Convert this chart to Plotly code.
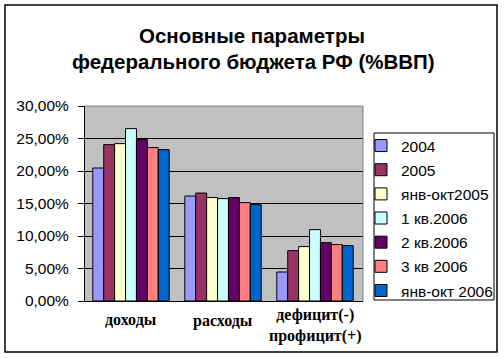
import plotly.graph_objects as go

categories = ["доходы", "расходы", "дефицит(-)<br>профицит(+)"]
series_names = ["2004", "2005", "янв-окт2005", "1 кв.2006", "2 кв.2006", "3 кв 2006", "янв-окт 2006"]
values = {
    "2004":         [0.2046, 0.1615, 0.0446],
    "2005":         [0.2406, 0.1661, 0.0775],
    "янв-окт2005":  [0.2421, 0.1591, 0.0837],
    "1 кв.2006":    [0.2652, 0.1575, 0.1098],
    "2 кв.2006":    [0.2483, 0.1591, 0.0898],
    "3 кв 2006":    [0.2360, 0.1513, 0.0868],
    "янв-окт 2006": [0.2329, 0.1483, 0.0852],
}
colors = ["#9999FF", "#993366", "#FFFFCC", "#CCFFFF", "#660066", "#FF8080", "#0066CC"]
title_lines = ["Основные параметры", "федерального бюджета РФ (%ВВП)"]

fig = go.Figure()
for i, name in enumerate(series_names):
    fig.add_trace(go.Bar(
        x=categories, y=values[name], name=name,
        marker=dict(color=colors[i], line=dict(color="black", width=1)),
        legendgroup=name,
    ))

W, H = 504, 358
L, R, T, B = 85, 141, 106, 57
pw, ph = W - L - R, H - T - B

def px_x(x):
    return (x - L) / pw

def px_y(y):
    return (H - B - y) / ph

fig.update_layout(
    width=W, height=H,
    margin=dict(l=L, r=R, t=T, b=B, pad=0, autoexpand=False),
    paper_bgcolor="white",
    plot_bgcolor="#C0C0C0",
    separators=", ",
    barmode="group",
    bargap=0.17,
    bargroupgap=0,
    font=dict(family="Arial, Liberation Sans, sans-serif", color="black"),
    showlegend=True,
    legend=dict(
        x=px_x(361), y=px_y(129), xanchor="left", yanchor="top",
        bgcolor="rgba(0,0,0,0)", borderwidth=0,
        font=dict(size=15.5, family="Arial, Liberation Sans, sans-serif"),
        tracegroupgap=1, itemwidth=30,
    ),
    xaxis=dict(
        showticklabels=False, ticks="", showline=True, linecolor="black", linewidth=1,
        showgrid=False,
    ),
    yaxis=dict(
        range=[0, 0.30], dtick=0.05, tickformat=".2%",
        showgrid=True, gridcolor="black", gridwidth=1,
        showline=True, linecolor="black", linewidth=1,
        ticks="outside", ticklen=6, tickcolor="black",
        ticklabelstandoff=6,
        tickfont=dict(size=15.5),
        zeroline=False,
    ),
)

# title lines
fig.add_annotation(text="<b>" + title_lines[0] + "</b>", xref="paper", yref="paper",
                   x=px_x(252), y=px_y(36), showarrow=False, xanchor="center", yanchor="middle",
                   font=dict(size=20.5))
fig.add_annotation(text="<b>" + title_lines[1] + "</b>", xref="paper", yref="paper",
                   x=px_x(253), y=px_y(62), showarrow=False, xanchor="center", yanchor="middle",
                   font=dict(size=20.5))

# category labels
label_y = [319, 321, 325]
for c, ly in zip(categories, label_y):
    fig.add_annotation(text="<b>" + c + "</b>", x=c, xref="x", yref="paper", y=px_y(ly),
                       showarrow=False, xanchor="center", yanchor="middle",
                       font=dict(size=16, family="Liberation Serif, Times New Roman, serif"))

# plot area top/right border (grey)
fig.add_shape(type="line", xref="paper", yref="paper", x0=0, x1=1, y0=1, y1=1,
              line=dict(color="#808080", width=1))
fig.add_shape(type="line", xref="paper", yref="paper", x0=1, x1=1, y0=0, y1=1,
              line=dict(color="#808080", width=1))
# legend box
fig.add_shape(type="rect", xref="paper", yref="paper",
              x0=px_x(374), x1=px_x(494), y0=px_y(300), y1=px_y(133),
              line=dict(color="black", width=1), fillcolor="white", layer="above")
# chart outer border
fig.add_shape(type="rect", xref="paper", yref="paper",
              x0=px_x(5), x1=px_x(497), y0=px_y(352), y1=px_y(5),
              line=dict(color="black", width=1.5))

fig.write_html(
    "out.html",
    config={"displayModeBar": False},
    post_script="document.body.style.margin='0';document.body.style.overflow='hidden';",
)
